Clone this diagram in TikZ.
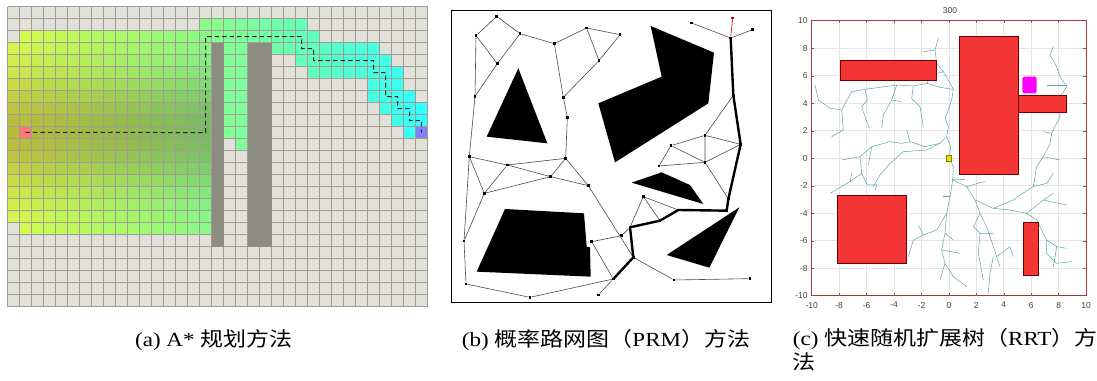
\documentclass[tikz,border=0pt]{standalone}
\usepackage{fontspec}
\usepackage{graphicx}
\setmainfont{Liberation Serif}
\newfontfamily\cjk{Noto Sans CJK SC}
\newfontfamily\axfont{Liberation Sans}
\definecolor{gridbg}{HTML}{E1E0D9}
\definecolor{gridln}{HTML}{A09D92}
\definecolor{obst}{HTML}{8C8C80}
\definecolor{startc}{HTML}{FF7878}
\definecolor{goalc}{HTML}{8080FF}
\definecolor{rrtred}{HTML}{F43535}
\definecolor{rrtbox}{HTML}{A53A3A}
\definecolor{treec}{HTML}{5AA5A5}
\definecolor{magc}{HTML}{FF00FF}
\definecolor{yelc}{HTML}{E8E000}
\definecolor{plotgrid}{HTML}{E4E4E4}
\tikzset{
  pathdash/.style={draw=black!85, line width=1pt, dash pattern=on 4.5pt off 3pt},
  prmpt/.style={rectangle, fill=black, inner sep=0pt, minimum size=2.6pt},
  prmedge/.style={draw=black!70, line width=0.6pt},
  prmthick/.style={draw=black, line width=2.4pt, line join=round, line cap=round},
  rrtline/.style={draw=treec, line width=0.5pt, line join=round},
  obsred/.style={fill=rrtred, draw=red!45!black, line width=0.5pt},
  ticklab/.style={font=\axfont\fontsize{8.5}{9}\selectfont, text=black!75, inner sep=0pt},
  captxt/.style={font=\fontsize{20}{24}\selectfont, inner sep=0pt},
}
\begin{document}
\begin{tikzpicture}[x=1pt,y=-1pt]
\useasboundingbox (0,0) rectangle (1097,380);
\fill[white] (0,0) rectangle (1097,380);

% ================= panel (a) =================
\begin{scope}[shift={(7.5,6.5)}, xscale=12, yscale=12]
  \fill[gridbg] (0,0) rectangle (35,25);
  \foreach \r/\a/\b in {1/16/24,2/1/25,3/0/16,3/18/19,3/22/30,4/0/16,4/18/19,4/24/31,
      5/0/16,5/18/19,5/25/32,6/0/16,6/18/19,6/30/32,7/0/16,7/18/19,7/30/33,
      8/0/16,8/18/19,8/31/34,9/0/16,9/18/19,9/32/34,10/0/16,10/18/19,10/33/33,
      11/0/16,11/19/19,12/0/16,13/0/16,14/0/16,15/0/16,16/0/16,17/0/16,18/1/16}{
    \foreach \c in {\a,...,\b}{
      \pgfmathsetmacro\kk{(\c<17)*exp(-((\r-10)*(\r-10))/25)}
      \pgfmathsetmacro\tt{\c/34}
      \pgfmathsetmacro\rr{(0.85-0.65*\tt)*(1-0.14*\kk)}
      \pgfmathsetmacro\gg{1-0.27*\kk}
      \pgfmathsetmacro\bb{(0.33+0.67*\tt^1.5)*(1-0.3*\kk)}
      \definecolor{cc}{rgb}{\rr,\gg,\bb}
      \fill[cc] (\c,\r) rectangle ++(1,1);
    }
  }
  \fill[startc] (1,10) rectangle (2,11);
  \fill[goalc] (34,10) rectangle (35,11);
  \foreach \i in {0,...,35} \draw[gridln, line width=1pt] (\i,0) -- (\i,25);
  \foreach \j in {0,...,25} \draw[gridln, line width=1pt] (0,\j) -- (35,\j);
  \fill[obst] (17,3) rectangle (18,20);
  \fill[obst] (20,3) rectangle (22,20);
  \coordinate (astart) at (1.5,10.5);
  \coordinate (agoal) at (34.5,10.5);
  \draw[pathdash] (astart) -- (16.5,10.5) -- (16.5,2.5) -- (24.5,2.5) -- (24.5,3.5)
    -- (25.5,3.5) -- (25.5,4.5) -- (30.5,4.5) -- (30.5,5.5) -- (31.5,5.5) -- (31.5,7.5)
    -- (32.5,7.5) -- (32.5,8.5) -- (33.5,8.5) -- (33.5,9.5) -- (34.5,9.5) -- (agoal);
\end{scope}

% ================= panel (b) =================
\begin{scope}[shift={(440,0)}, scale=0.33333]
  \draw[line width=0.8pt] (33,30) rectangle (993,908);
  \fill (235,205) -- (140,410) -- (322,430) -- cycle;
  \fill (632,78) -- (822,158) -- (805,310) -- (525,487) -- (475,310) -- (665,230) -- cycle;
  \fill (575,548) -- (665,517) -- (750,555) -- (790,612) -- cycle;
  \fill (898,622) -- (680,765) -- (808,803) -- cycle;
  \fill (195,627) -- (432,640) -- (440,740) -- (450,742) -- (452,830) -- (110,815) -- cycle;
  \foreach \n/\x/\y in {n1/170/49,n2/108/107,n3/240/101,n4/172/191,n5/105/289,n6/343/131,
      n7/440/84,n8/540/104,n9/477/182,n10/370/292,n11/382/352,n12/88/470,n13/377/475,
      n14/202/495,n15/332/530,n16/133/580,n17/445/557,n18/72/723,n19/78/852,n20/270/892,
      n21/520/837,n22/475/885,n23/455/725,n24/545/707,n25/580/772,n26/570/682,n27/610/590,
      n28/660/662,n29/715/630,n30/860/632,n31/865/597,n32/702/840,n33/930/836,n34/902/433,
      n35/795/406,n36/693/437,n37/795/487,n38/657/498,n39/880/286,n40/872/114,n41/755/69,
      n42/938/89}
    \node[prmpt] (\n) at (\x,\y) {};
  \node[prmpt, fill=red!80!black] (n43) at (878,54) {};
  \foreach \a/\b in {n1/n2,n1/n3,n2/n4,n2/n5,n3/n4,n4/n5,n3/n6,n6/n7,n7/n8,n7/n9,n8/n9,
      n9/n10,n6/n10,n10/n11,n11/n13,n5/n12,n12/n14,n14/n13,n14/n15,n15/n17,n13/n15,
      n13/n17,n16/n15,n16/n14,n12/n16,n12/n18,n16/n18,n18/n19,n19/n20,n20/n21,n21/n22,
      n21/n23,n23/n24,n24/n26,n17/n25,n26/n27,n27/n28,n27/n29,n25/n32,n32/n33,n39/n35,
      n35/n36,n35/n34,n35/n37,n36/n37,n36/n38,n38/n37,n34/n37,n37/n31,n40/n41,n40/n42}
    \draw[prmedge] (\a) -- (\b);
  \draw[draw=red!80!black, line width=0.6pt] (n40) -- (n43);
  \draw[prmthick] (n40.center) -- (n39.center) -- (n34.center) -- (n31.center)
    -- (n30.center) -- (n29.center) -- (n28.center) -- (n26.center) -- (n25.center)
    -- (n21.center);
\end{scope}

% ================= panel (c) =================
\node[ticklab] (title) at (950,10.5) {300};
\begin{scope}[shift={(948.9,158.2)}, xscale=13.72, yscale=-13.75]
  \foreach \v in {-8,-6,...,8} {
    \draw[plotgrid, line width=0.6pt] (\v,-10) -- (\v,10);
    \draw[plotgrid, line width=0.6pt] (-10,\v) -- (10,\v);
  }
\end{scope}
\begin{scope}[shift={(780,0)}, scale=0.33333]
  \draw[rrtline] (508,473) -- (512,440) -- (500,410) -- (505,380) -- (495,355) -- (505,330)
    -- (515,300) -- (520,268) -- (505,240) -- (490,215) -- (470,190) -- (465,150) -- (475,115);
  \draw[rrtline] (465,150) -- (430,155);
  \draw[rrtline] (490,215) -- (455,225) -- (440,250);
  \draw[rrtline] (520,268) -- (480,262) -- (440,250) -- (400,258) -- (350,255) -- (300,262)
    -- (255,268) -- (215,275) -- (185,330) -- (190,390) -- (155,410);
  \draw[rrtline] (105,255) -- (115,300) -- (150,325) -- (185,330);
  \draw[rrtline] (400,258) -- (395,295) -- (420,320) -- (430,380);
  \draw[rrtline] (350,255) -- (335,300) -- (310,345) -- (305,385);
  \draw[rrtline] (335,300) -- (365,305);
  \draw[rrtline] (255,268) -- (262,300) -- (245,320) -- (255,350) -- (268,385);
  \draw[rrtline] (500,410) -- (480,430) -- (435,440) -- (390,425) -- (365,430) -- (330,425)
    -- (275,440) -- (240,470) -- (185,480);
  \draw[rrtline] (380,390) -- (390,425);
  \draw[rrtline] (240,470) -- (245,520) -- (262,555) -- (290,555) -- (285,570);
  \draw[rrtline] (245,520) -- (210,545) -- (150,580);
  \draw[rrtline] (210,545) -- (215,520);
  \draw[rrtline] (275,440) -- (265,495);
  \draw[rrtline] (480,430) -- (440,450) -- (370,455) -- (330,490) -- (300,525) -- (280,560);
  \draw[rrtline] (508,473) -- (520,500) -- (518,540) -- (510,590) -- (500,640) -- (495,700)
    -- (485,750) -- (495,790) -- (480,840);
  \draw[rrtline] (518,540) -- (555,538);
  \draw[rrtline] (510,590) -- (490,590);
  \draw[rrtline] (500,640) -- (470,690) -- (430,705) -- (400,720) -- (385,770);
  \draw[rrtline] (430,705) -- (415,675);
  \draw[rrtline] (485,750) -- (540,760);
  \draw[rrtline] (495,790) -- (520,830) -- (560,860);
  \draw[rrtline] (495,700) -- (520,720);
  \draw[rrtline] (518,540) -- (540,550) -- (560,560) -- (585,600) -- (600,640) -- (620,680)
    -- (650,770) -- (660,800);
  \draw[rrtline] (560,560) -- (600,548) -- (615,545);
  \draw[rrtline] (585,600) -- (640,625) -- (690,630) -- (740,640) -- (770,660) -- (800,720)
    -- (830,740) -- (860,745);
  \draw[rrtline] (640,625) -- (700,600) -- (720,585) -- (760,560) -- (770,500) -- (790,470)
    -- (810,430) -- (815,400) -- (830,370) -- (840,350) -- (835,300) -- (860,260);
  \draw[rrtline] (860,260) -- (840,230) -- (830,200) -- (810,165) -- (820,140);
  \draw[rrtline] (800,255) -- (860,255);
  \draw[rrtline] (760,560) -- (800,550) -- (820,520);
  \draw[rrtline] (790,470) -- (840,480);
  \draw[rrtline] (740,640) -- (790,600) -- (860,615);
  \draw[rrtline] (790,600) -- (820,580);
  \draw[rrtline] (800,720) -- (800,760) -- (830,790) -- (875,785);
  \draw[rrtline] (830,740) -- (820,800);
  \draw[rrtline] (600,640) -- (580,680) -- (600,700) -- (640,700);
  \draw[rrtline] (650,770) -- (690,740) -- (700,770);
  \draw[rrtline] (640,770) -- (630,820) -- (625,880);
  \draw[rrtline] (600,700) -- (595,760) -- (610,840);
  \draw[rrtline] (815,400) -- (790,395);
\end{scope}
\begin{scope}[shift={(948.9,158.2)}, xscale=13.72, yscale=-13.75]
  \path[obsred] (-7.9,5.7) rectangle (-0.9,7.1);
  \path[obsred] (0.72,-1.17) rectangle (5.07,8.84);
  \path[obsred] (5.07,3.36) rectangle (8.55,4.6);
  \path[obsred] (-8.15,-7.65) rectangle (-3.13,-2.68);
  \path[obsred] (5.43,-8.5) rectangle (6.53,-4.69);
  \fill[magc, rounded corners=1.5pt] (5.36,4.72) rectangle (6.4,5.93);
  \filldraw[fill=yelc, draw=olive, line width=0.4pt] (-0.2,-0.2) rectangle (0.2,0.2);
  \draw[rrtbox, line width=0.9pt] (-10,-10) rectangle (10,10);
  \foreach \v in {-8,-6,...,8} {
    \draw[black!60, line width=0.4pt] (\v,-10) -- (\v,-9.8);
    \draw[black!60, line width=0.4pt] (\v,10) -- (\v,9.8);
    \draw[black!60, line width=0.4pt] (-10,\v) -- (-9.8,\v);
    \draw[black!60, line width=0.4pt] (10,\v) -- (9.8,\v);
  }
  \foreach \v in {-10,-8,...,10} {
    \node[ticklab, anchor=east] at (-10.28,\v) {\v};
    \node[ticklab, anchor=north] at (\v,-10.45) {\v};
  }
\end{scope}

% ================= captions =================
\node[captxt, anchor=base west] (capa) at (135,346)
  {\scalebox{1.15}[1]{(a) A* {\cjk 规划方法}}};
\node[captxt, anchor=base west] (capb) at (461.7,346)
  {\scalebox{1.15}[1]{(b) {\cjk 概率路网图（}PRM{\cjk ）方法}}};
\node[captxt, anchor=base west] (capc1) at (792.7,345)
  {\scalebox{1.15}[1]{(c) {\cjk 快速随机扩展树（}RRT{\cjk ）方}}};
\node[captxt, anchor=base west] (capc2) at (792.7,369)
  {\scalebox{1.15}[1]{\cjk 法}};
\end{tikzpicture}
\end{document}
